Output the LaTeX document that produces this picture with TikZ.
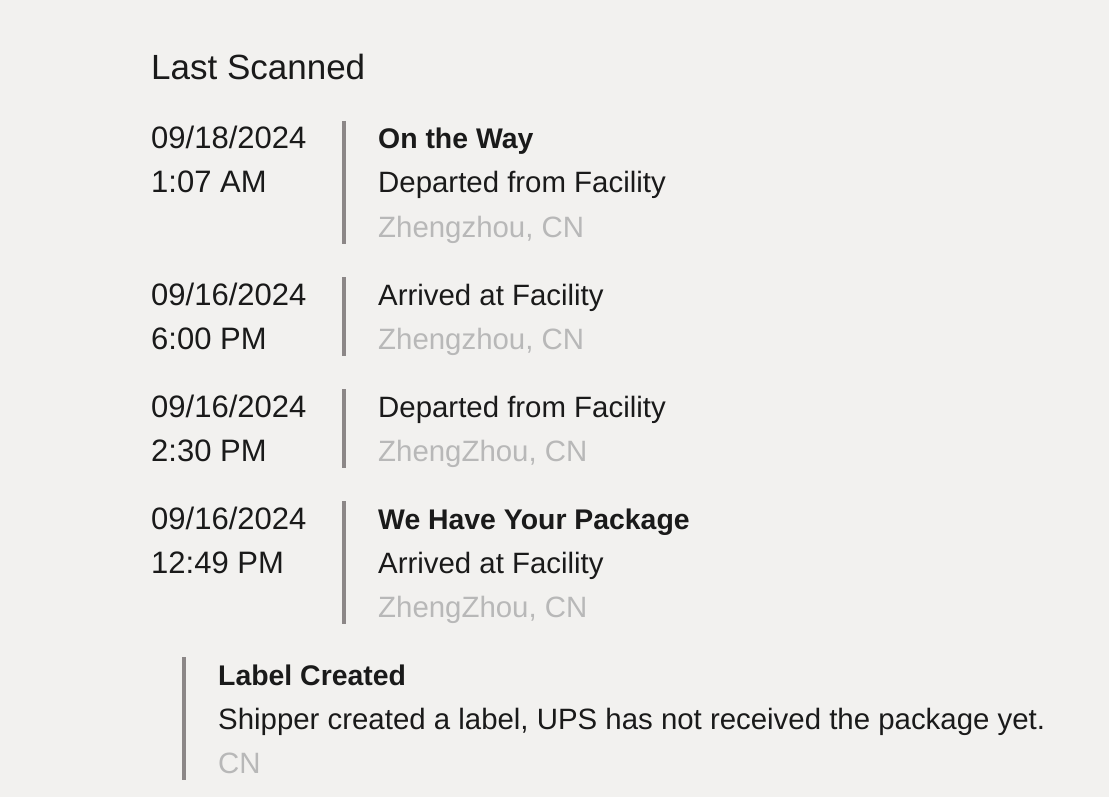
\documentclass[tikz,border=0pt]{standalone}
\usepackage{fontspec}
\setmainfont{Liberation Sans}
\usepackage{tikz}
\usetikzlibrary{positioning}
\definecolor{pagebg}{RGB}{242,241,239}
\definecolor{inkdark}{RGB}{26,26,26}
\definecolor{inkgray}{RGB}{184,184,184}
\definecolor{bargray}{RGB}{140,135,135}
\tikzset{
  txt/.style    = {inner sep=0pt, anchor=base west, text=inkdark,
                   font=\fontsize{29.4}{36}\selectfont},
  datetxt/.style = {txt, font=\fontsize{31}{36}\selectfont},
  heading/.style = {txt, font=\fontsize{35}{42}\selectfont},
  status/.style = {txt, font=\fontsize{28.4}{36}\selectfont\bfseries},
  place/.style  = {txt, text=inkgray},
  bar/.style    = {draw=bargray, line width=4pt}
}

\begin{document}
\begin{tikzpicture}[x=1pt,y=-1pt]
  \fill[pagebg] (0,0) rectangle (1109,797);
  \useasboundingbox (0,0) rectangle (1109,797);
  \node[heading] (title) at (151,80) {Last Scanned};
  % first scan
  \node[datetxt] (d1) at (151,149) {09/18/2024};
  \node[datetxt] (t1) at (151,193) {1:07 AM};
  \draw[bar] (344,121) -- (344,244);
  \node[status] (s1) at (378,149) {On the Way};
  \node[txt] (e1) at (378,193) {Departed from Facility};
  \node[place] (p1) at (378,237) {Zhengzhou, CN};
  % second scan
  \node[datetxt] (d2) at (151,305) {09/16/2024};
  \node[datetxt] (t2) at (151,349) {6:00 PM};
  \draw[bar] (344,277) -- (344,356);
  \node[txt] (e2) at (378,305) {Arrived at Facility};
  \node[place] (p2) at (378,349) {Zhengzhou, CN};
  % third scan
  \node[datetxt] (d3) at (151,417) {09/16/2024};
  \node[datetxt] (t3) at (151,461) {2:30 PM};
  \draw[bar] (344,389) -- (344,468);
  \node[txt] (e3) at (378,417) {Departed from Facility};
  \node[place] (p3) at (378,461) {ZhengZhou, CN};
  % fourth scan
  \node[datetxt] (d4) at (151,529) {09/16/2024};
  \node[datetxt] (t4) at (151,573) {12:49 PM};
  \draw[bar] (344,501) -- (344,624);
  \node[status] (s4) at (378,529) {We Have Your Package};
  \node[txt] (e4) at (378,573) {Arrived at Facility};
  \node[place] (p4) at (378,617) {ZhengZhou, CN};
  % label
  \draw[bar] (184,657) -- (184,780);
  \node[status] (s5) at (218,685) {Label Created};
  \node[txt] (e5) at (218,729) {Shipper created a label, UPS has not received the package yet.};
  \node[place] (p5) at (218,773) {CN};
\end{tikzpicture}
\end{document}
